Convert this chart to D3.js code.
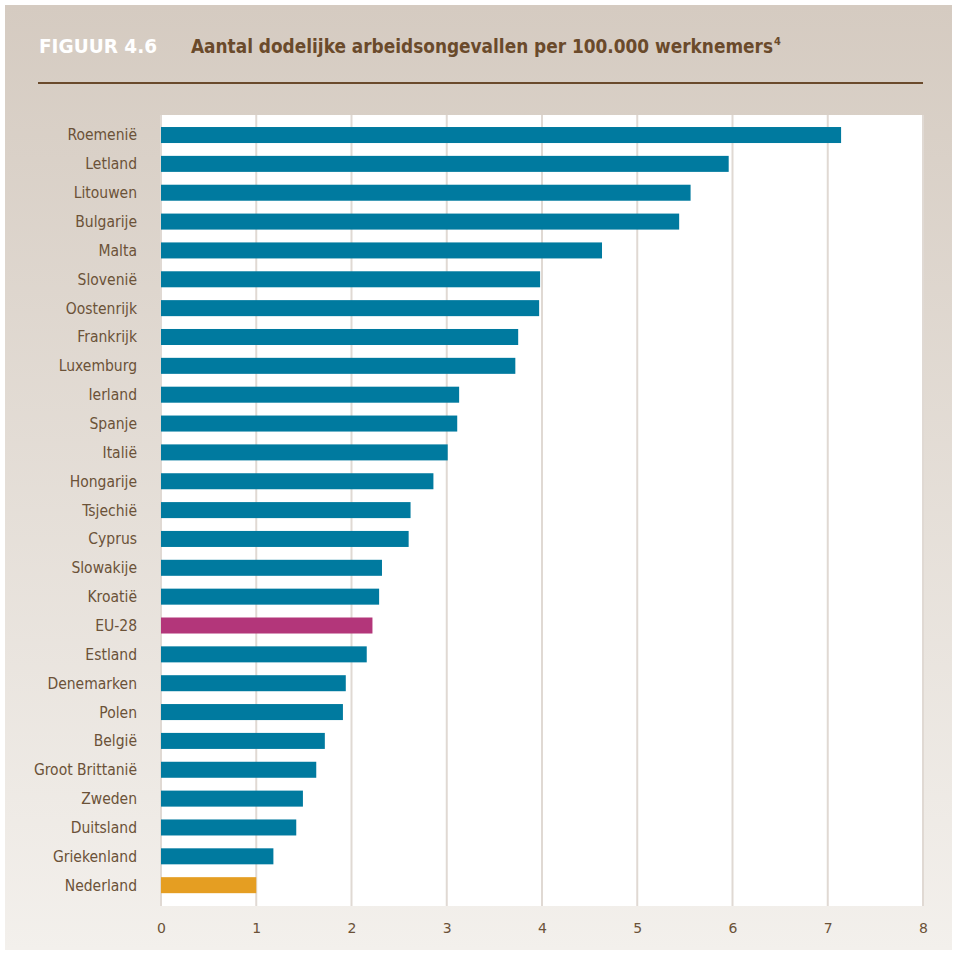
<!DOCTYPE html>
<html>
<head>
<meta charset="utf-8">
<script src="https://cdn.jsdelivr.net/npm/d3@7"></script>
<style>
  html, body { margin: 0; padding: 0; background: #ffffff; }
  svg { display: block; }
</style>
</head>
<body>
<svg id="chart" width="957" height="954"></svg>
<script>
// Fatal occupational accidents per 100,000 workers, by country
const countries = ["Roemenië", "Letland", "Litouwen", "Bulgarije", "Malta", "Slovenië", "Oostenrijk",
  "Frankrijk", "Luxemburg", "Ierland", "Spanje", "Italië", "Hongarije", "Tsjechië", "Cyprus",
  "Slowakije", "Kroatië", "EU-28", "Estland", "Denemarken", "Polen", "België", "Groot Brittanië",
  "Zweden", "Duitsland", "Griekenland", "Nederland"];
const values = [7.14, 5.96, 5.56, 5.44, 4.63, 3.98, 3.97, 3.75, 3.72, 3.13, 3.11, 3.01, 2.86, 2.62,
  2.60, 2.32, 2.29, 2.22, 2.16, 1.94, 1.91, 1.72, 1.63, 1.49, 1.42, 1.18, 1.00];
const xTicks = [0, 1, 2, 3, 4, 5, 6, 7, 8];
const highlight = { "EU-28": "#b3367a", "Nederland": "#e59e22" };
const barColor = "#007a9f";

const svg = d3.select("#chart");
const W = 957, H = 954;

// Panel background with vertical gradient
const defs = svg.append("defs");
const grad = defs.append("linearGradient").attr("id", "bg").attr("x1", 0).attr("y1", 0).attr("x2", 0).attr("y2", 1);
grad.append("stop").attr("offset", "0%").attr("stop-color", "#d5cbc1");
grad.append("stop").attr("offset", "100%").attr("stop-color", "#f3f0ec");
svg.append("rect").attr("x", 5).attr("y", 5).attr("width", W - 10).attr("height", H - 9).attr("fill", "url(#bg)");

// Title
const titleFont = "'DejaVu Sans Condensed', 'Liberation Sans Narrow', sans-serif";
svg.append("text").attr("x", 39).attr("y", 53)
  .attr("font-family", titleFont).attr("font-weight", "bold").attr("font-size", 20)
  .attr("textLength", 118).attr("lengthAdjust", "spacingAndGlyphs")
  .attr("fill", "#ffffff").text("FIGUUR 4.6");
const title = svg.append("text").attr("x", 191).attr("y", 53)
  .attr("font-family", titleFont).attr("font-weight", "bold").attr("font-size", 20)
  .attr("fill", "#6a4a2b");
title.append("tspan")
  .attr("textLength", 582).attr("lengthAdjust", "spacingAndGlyphs")
  .text("Aantal dodelijke arbeidsongevallen per 100.000 werknemers");
title.append("tspan").attr("font-size", 11).attr("dx", 1).attr("dy", -8).text("4");
svg.append("line").attr("x1", 38).attr("x2", 923).attr("y1", 83).attr("y2", 83)
  .attr("stroke", "#6a4a2c").attr("stroke-width", 2);

// Scales
const x = d3.scaleLinear().domain([0, 8]).range([161, 923]);
const y = d3.scaleBand().domain(countries).range([120.6, 899.6]).paddingInner(0.445).paddingOuter(0.2225);

// Plot area
svg.append("rect").attr("x", 160).attr("y", 115).attr("width", 763).attr("height", 791).attr("fill", "#ffffff");

// Gridlines
svg.append("g").selectAll("line").data(xTicks).join("line")
  .attr("x1", d => x(d)).attr("x2", d => x(d))
  .attr("y1", 115).attr("y2", 906)
  .attr("stroke", "#e0d9d3").attr("stroke-width", 2);

// Bars
svg.append("g").selectAll("rect").data(countries).join("rect")
  .attr("x", x(0))
  .attr("y", d => y(d))
  .attr("width", (d, i) => x(values[i]) - x(0))
  .attr("height", y.bandwidth())
  .attr("fill", d => highlight[d] || barColor);

// Category labels
const labelFont = "'DejaVu Sans Condensed', 'Liberation Sans Narrow', sans-serif";
const yAxis = svg.append("g").attr("transform", "translate(137,0)")
  .call(d3.axisLeft(y).tickSize(0).tickPadding(0));
yAxis.select(".domain").remove();
yAxis.selectAll("text").attr("font-family", labelFont).attr("font-size", 15.5)
  .attr("fill", "#6b5238").attr("dy", "0.35em");

// Value axis labels
const xAxis = svg.append("g").attr("transform", "translate(0,923)")
  .call(d3.axisBottom(x).tickValues(xTicks).tickSize(0).tickPadding(0).tickFormat(d3.format("d")));
xAxis.select(".domain").remove();
xAxis.selectAll("text").attr("font-family", "'DejaVu Sans', sans-serif").attr("font-size", 14)
  .attr("fill", "#6b5238").attr("dy", "0.71em");
</script>
</body>
</html>
